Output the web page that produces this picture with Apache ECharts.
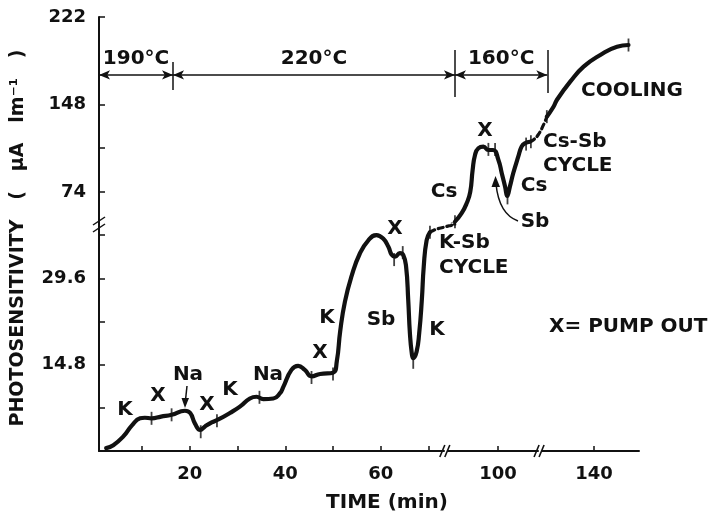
<!DOCTYPE html>
<html><head><meta charset="utf-8">
<script src="https://cdn.jsdelivr.net/npm/echarts@6/dist/echarts.min.js"></script>
<style>html,body{margin:0;padding:0;background:#fff}#c{width:712px;height:518px}</style>
</head><body><div id="c"></div>
<script>
// ---------------- data ----------------
// time axis (min) and its collapsed ranges
const xMin = 1, xMax = 149.4;
const xBreaks = [[73.2, 89.5], [108.4, 129.1]];
const xTickValues = [10, 20, 30, 40, 50, 60, 70, 100, 140];
const xLabelValues = [20, 40, 60, 100, 140];
// broken photosensitivity axis: upper and lower panels
const upperRange = [46.9, 222];
const lowerRange = [0, 38.9];
const upperTickValues = [74, 111, 148, 222];
const upperLabelValues = [74, 148, 222];
const lowerTickValues = [7.4, 14.8, 22.2, 29.6, 37];
const lowerLabelValues = [14.8, 29.6];

// curve pieces (time, photosensitivity)
const growthTime = [2.5, 4.0, 6.1, 7.9, 9.6, 10.6, 12.0, 14.0, 16.2, 19.0, 20.1, 21.1, 22.2, 23.2, 24.6, 26.0, 28.4, 30.5, 32.6, 34.0, 35.4, 37.5, 38.9, 39.6, 41.3, 42.7, 44.1, 45.5, 47.3, 50.0, 50.8, 51.5, 52.5, 53.9, 55.6, 57.4, 59.1, 60.5, 61.6, 62.3, 63.0, 64.0, 64.7, 65.3, 65.75, 66.1, 66.5, 66.8, 67.5, 68.05, 68.6, 69.0, 69.6, 70.3];
const growthValue = [0.5, 1.0, 2.5, 4.4, 5.6, 5.7, 5.6, 5.9, 6.2, 6.9, 6.5, 4.7, 3.6, 4.2, 4.9, 5.4, 6.5, 7.6, 9.0, 9.3, 8.9, 9.0, 9.9, 11.0, 13.9, 14.6, 13.9, 12.8, 13.2, 13.4, 15.4, 20.5, 25.6, 30.0, 33.8, 36.1, 37.0, 36.4, 35.0, 33.6, 33.3, 33.9, 33.6, 31.6, 25.9, 20.2, 16.7, 15.9, 17.0, 20.2, 25.9, 31.6, 36.1, 37.5];
const kSbTime = [70.3, 71.0, 72.0, 73.0, 89.8, 90.3, 91.0];
const kSbValue = [37.5, 37.8, 38.1, 38.3, 38.6, 38.7, 48.9];
const csTime = [91.0, 92.4, 93.45, 94.2, 94.7, 95.2, 95.9, 96.95, 98.0, 99.0, 100.1, 100.8, 101.5, 101.95, 102.5, 103.2, 104.25, 104.95, 105.65, 106.7];
const csValue = [48.9, 56.0, 64.4, 74.0, 92.6, 105.3, 111.0, 112.3, 109.5, 109.5, 101.1, 89.8, 78.5, 70.6, 78.5, 89.8, 103.8, 112.3, 115.2, 116.5];
const csSbTime = [106.7, 107.4, 108.4, 129.4, 130.1];
const csSbValue = [116.5, 118.0, 122.2, 130.7, 137.7];
const coolingTime = [130.1, 131.5, 132.2, 135.0, 137.8, 141.3, 144.8, 147.2];
const coolingValue = [137.7, 146.1, 151.8, 167.3, 180.0, 189.9, 196.9, 198.3];

// pump-out / step markers on the curve
const markTimeLower = [12.0, 16.2, 22.3, 25.7, 34.6, 45.5, 50.0, 62.8, 64.6, 66.8, 70.3];
const markValueLower = [5.6, 6.2, 3.3, 5.2, 9.2, 12.6, 13.2, 32.8, 34.0, 15.2, 37.5];
const markTimeUpper = [91.0, 98.0, 99.4, 102.0, 105.9, 106.9, 130.1, 147.2];
const markValueUpper = [48.9, 110, 110, 69, 114.5, 116.5, 137.7, 198.3];

// temperature stages
const tempBounds = [1, 16.5, 91, 130.2];
const tempLabels = ['190°C', '220°C', '160°C'];
const tempLevel = 173;

// ---------------- chart ----------------
const INK = '#111';
const FONT = '"DejaVu Sans", sans-serif';
const pairs = (ts, vs) => ts.map((t, i) => [t, vs[i]]);

const pieces = [
  {t: growthTime, v: growthValue, dashed: false},
  {t: kSbTime, v: kSbValue, dashed: true},
  {t: csTime, v: csValue, dashed: false},
  {t: csSbTime, v: csSbValue, dashed: true},
  {t: coolingTime, v: coolingValue, dashed: false}
];

const xBase = {
  type: 'value', min: xMin, max: xMax,
  breaks: xBreaks.map(b => ({start: b[0], end: b[1], gap: '0.74%'})),
  breakArea: {show: false, itemStyle: {color: 'rgba(0,0,0,0)', borderColor: 'rgba(0,0,0,0)', borderWidth: 0}},
  splitLine: {show: false}
};
const labelStyle = {color: INK, fontFamily: FONT, fontWeight: 'bold', fontSize: 18};

const series = [];
[0, 1].forEach(g => {
  pieces.forEach(p => {
    series.push({
      type: 'line', xAxisIndex: g, yAxisIndex: g, data: pairs(p.t, p.v),
      symbol: 'none', smooth: 0.5, clip: true, silent: true,
      lineStyle: {color: INK, width: p.dashed ? 3.2 : 4.2, type: p.dashed ? [5, 4] : 'solid', cap: 'round', join: 'round'},
      z: 3
    });
  });
});
series.push({
  type: 'scatter', xAxisIndex: 1, yAxisIndex: 1, data: pairs(markTimeLower, markValueLower),
  symbol: 'rect', symbolSize: [1.8, 13], itemStyle: {color: INK}, silent: true, z: 4
});
series.push({
  type: 'scatter', xAxisIndex: 0, yAxisIndex: 0, data: pairs(markTimeUpper, markValueUpper),
  symbol: 'rect', symbolSize: [1.8, 13], itemStyle: {color: INK}, silent: true, z: 4
});
// temperature arrows
series.push({
  type: 'line', xAxisIndex: 0, yAxisIndex: 0, data: [], silent: true,
  markLine: {
    silent: true, symbol: ['arrow', 'arrow'], symbolSize: [7, 11], animation: false,
    lineStyle: {color: INK, width: 1.5, type: 'solid'},
    label: {show: true, position: 'insideMiddleTop', distance: 6, formatter: '{b}', color: INK, fontFamily: FONT, fontWeight: 'bold', fontSize: 20},
    data: tempLabels.map((name, i) => [
      {name: name, coord: [tempBounds[i], tempLevel]},
      {coord: [tempBounds[i + 1], tempLevel]}
    ])
  }
});
const tickSpan = [[171, 191.5], [160.3, 184], [154.3, 194.1], [157.7, 194.1]];
series.push({
  type: 'line', xAxisIndex: 0, yAxisIndex: 0, data: [], silent: true,
  markLine: {
    silent: true, symbol: ['none', 'none'], animation: false,
    lineStyle: {color: INK, width: 1.5, type: 'solid'}, label: {show: false},
    data: tempBounds.map((t, i) => [{coord: [t, tickSpan[i][0]]}, {coord: [t, tickSpan[i][1]]}])
  }
});

const option = {
  animation: false,
  backgroundColor: '#fff',
  grid: [
    {left: 99, right: 73, top: 17, height: 207},
    {left: 99, right: 73, top: 224, height: 227}
  ],
  xAxis: [
    Object.assign({}, xBase, {gridIndex: 0, show: false}),
    Object.assign({}, xBase, {
      gridIndex: 1,
      axisLine: {show: true, onZero: false, lineStyle: {color: INK, width: 2}},
      axisTick: {show: true, inside: true, length: 5, lineStyle: {color: INK, width: 1.5}, customValues: xTickValues},
      axisLabel: Object.assign({customValues: xLabelValues, margin: 14}, labelStyle)
    })
  ],
  yAxis: [
    {
      type: 'value', gridIndex: 0, min: upperRange[0], max: upperRange[1], splitLine: {show: false},
      axisLine: {show: true, lineStyle: {color: INK, width: 2}},
      axisTick: {show: true, inside: true, length: 6, lineStyle: {color: INK, width: 1.5}, customValues: upperTickValues},
      axisLabel: Object.assign({customValues: upperLabelValues, margin: 13}, labelStyle)
    },
    {
      type: 'value', gridIndex: 1, min: lowerRange[0], max: lowerRange[1], splitLine: {show: false},
      axisLine: {show: true, lineStyle: {color: INK, width: 2}},
      axisTick: {show: true, inside: true, length: 6, lineStyle: {color: INK, width: 1.5}, customValues: lowerTickValues},
      axisLabel: Object.assign({customValues: lowerLabelValues, margin: 13}, labelStyle)
    }
  ],
  series: series
};

const chart = echarts.init(document.getElementById('c'));
chart.setOption(option);

// ---------------- annotations ----------------
const txt = (text, x, y, align, size) => ({
  type: 'text', x: x, y: y, silent: true, z: 10,
  style: {text: text, fill: INK, font: 'bold ' + (size || 20) + 'px ' + FONT, align: align || 'center', verticalAlign: 'middle'}
});
const seg = (x1, y1, x2, y2, w) => ({type: 'line', silent: true, z: 10, shape: {x1, y1, x2, y2}, style: {stroke: INK, lineWidth: w || 1.5}});
const tri = (pts) => ({type: 'polygon', silent: true, z: 10, shape: {points: pts}, style: {fill: INK}});

const labels = [
  ['K', 125, 410], ['X', 158, 396], ['Na', 188, 375], ['X', 207, 405], ['K', 230, 390],
  ['Na', 268, 375], ['X', 320, 353], ['K', 327, 318], ['Sb', 381, 320], ['K', 437, 330],
  ['X', 395, 229], ['Cs', 444, 192], ['X', 485, 131], ['Cs', 534, 186], ['Sb', 535, 222]
];
const g = labels.map(l => txt(l[0], l[1], l[2]));
g.push(txt('K-Sb', 439, 243, 'left'));
g.push(txt('CYCLE', 439, 268, 'left'));
g.push(txt('Cs-Sb', 543, 142, 'left'));
g.push(txt('CYCLE', 543, 166, 'left'));
g.push(txt('COOLING', 581, 91, 'left'));
g.push(txt('X= PUMP OUT', 549, 327, 'left'));
g.push(txt('TIME (min)', 387, 503, 'center', 20));
g.push({
  type: 'text', x: 18, y: 238, rotation: Math.PI / 2, silent: true, z: 10,
  style: {text: 'PHOTOSENSITIVITY   (   μA   lm⁻¹   )', fill: INK, font: 'bold 19px ' + FONT, align: 'center', verticalAlign: 'middle'}
});
// Na arrow
g.push(seg(187, 386, 185.5, 400));
g.push(tri([[181.5, 398], [189, 398], [185, 408]]));
// Sb curved arrow
g.push({type: 'bezierCurve', silent: true, z: 10, shape: {x1: 518, y1: 221, cpx1: 499, cpy1: 214, x2: 496, y2: 184}, style: {stroke: INK, lineWidth: 1.5, fill: null}});
g.push(tri([[491.5, 187], [500, 187], [495.5, 176]]));
// axis break marks
const yb = chart.convertToPixel({yAxisIndex: 1}, lowerRange[1]);
g.push(seg(93, yb + 1, 105, yb - 7, 1.5));
g.push(seg(93, yb + 8, 105, yb, 1.5));
xBreaks.forEach(b => {
  const xa = chart.convertToPixel({xAxisIndex: 1}, b[0]);
  const xc = chart.convertToPixel({xAxisIndex: 1}, b[1]);
  const xm = (xa + xc) / 2;
  const yAx = chart.convertToPixel({yAxisIndex: 1}, 0);
  g.push(seg(xm - 6, yAx + 6, xm - 1, yAx - 6, 1.6));
  g.push(seg(xm - 1, yAx + 6, xm + 4, yAx - 6, 1.6));
});
chart.setOption({graphic: g});
</script></body></html>
